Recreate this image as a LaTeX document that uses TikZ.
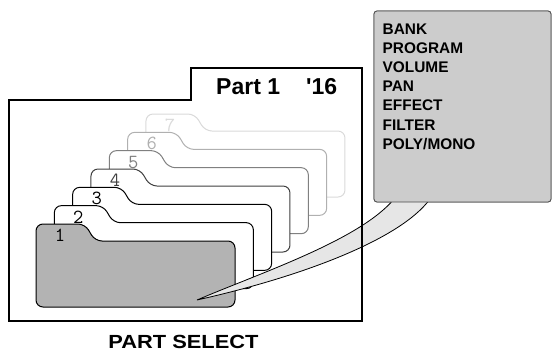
\documentclass[tikz,border=0pt]{standalone}
\usepackage{fontspec}
\newfontfamily\hv{Liberation Sans}
\newfontfamily\hvwide[FakeStretch=1.15]{Liberation Sans}
\definecolor{ffour}{HTML}{404040}
\definecolor{ffive}{HTML}{808080}
\definecolor{fsix}{HTML}{B0B0B0}
\definecolor{fseven}{HTML}{DADADA}
\definecolor{foldgray}{HTML}{B3B3B3}
\definecolor{tailgray}{HTML}{E6E6E6}
\definecolor{boxgray}{HTML}{CCCCCC}
\tikzset{
  folder/.style={line width=1pt, rounded corners=7pt, line join=round},
  numlbl/.style={font=\ttfamily\fontsize{20}{20}\selectfont, inner sep=0pt, anchor=center},
  frameline/.style={line width=1.5pt, line join=miter},
  menubox/.style={draw=black!70, fill=boxgray, line width=0.8pt, rounded corners=3pt,
    minimum width=177pt, minimum height=191pt, inner sep=0pt},
  tailshape/.style={draw=black, fill=tailgray, line width=0.8pt},
}
\begin{document}
\begin{tikzpicture}[x=1pt,y=-1pt]
\useasboundingbox (0,0) rectangle (552,353);
% folders, back to front
\foreach \i/\c/\f in {7/fseven/white,6/fsix/white,5/ffive/white,4/ffour/white,3/black/white,2/black/white,1/black/foldgray}{
  \begin{scope}[shift={({36+(\i-1)*18.33},{224-(\i-1)*18.33})}]
    \draw[folder, draw=\c, fill=\f] (0,40) -- (0,0) -- (49,0) -- (59,17) -- (199,17) -- (199,83) -- (0,83) -- cycle;
    \node[numlbl, text=\c] (n\i) at (24,11.5) {\i};
  \end{scope}
}
% callout
\node[menubox] (menu) at (462.5,106.5) {};
\coordinate (tip) at (197,300);
\coordinate (ta) at (394,199);
\coordinate (tb) at (430,199);
\draw[tailshape] (tip) .. controls (260,273) and (360,240) .. (ta) -- (tb) .. controls (400,240) and (300,277) .. (tip) -- cycle;
\node[menubox] (menu2) at (menu) {};
\node[anchor=north west, inner sep=0pt, align=left, font=\hv\bfseries\fontsize{15.4}{19.2}\selectfont] (list) at (382.5,23.3)
  {BANK\\PROGRAM\\VOLUME\\PAN\\EFFECT\\FILTER\\POLY/MONO};
% frame
\draw[frameline] (9,100) -- (191,100) -- (191,68) -- (362,68) -- (362,321) -- (9,321) -- cycle;
\node[anchor=base west, inner sep=0pt, font=\hv\bfseries\fontsize{23}{23}\selectfont] (part) at (216,95) {Part 1};
\node[anchor=base west, inner sep=0pt, font=\hv\bfseries\fontsize{23}{23}\selectfont] (pnum) at (306,95) {\textquotesingle16};
\node[anchor=base, inner sep=0pt, font=\hvwide\bfseries\fontsize{19}{19}\selectfont] (title) at (183.5,348) {PART SELECT};
\end{tikzpicture}
\end{document}
